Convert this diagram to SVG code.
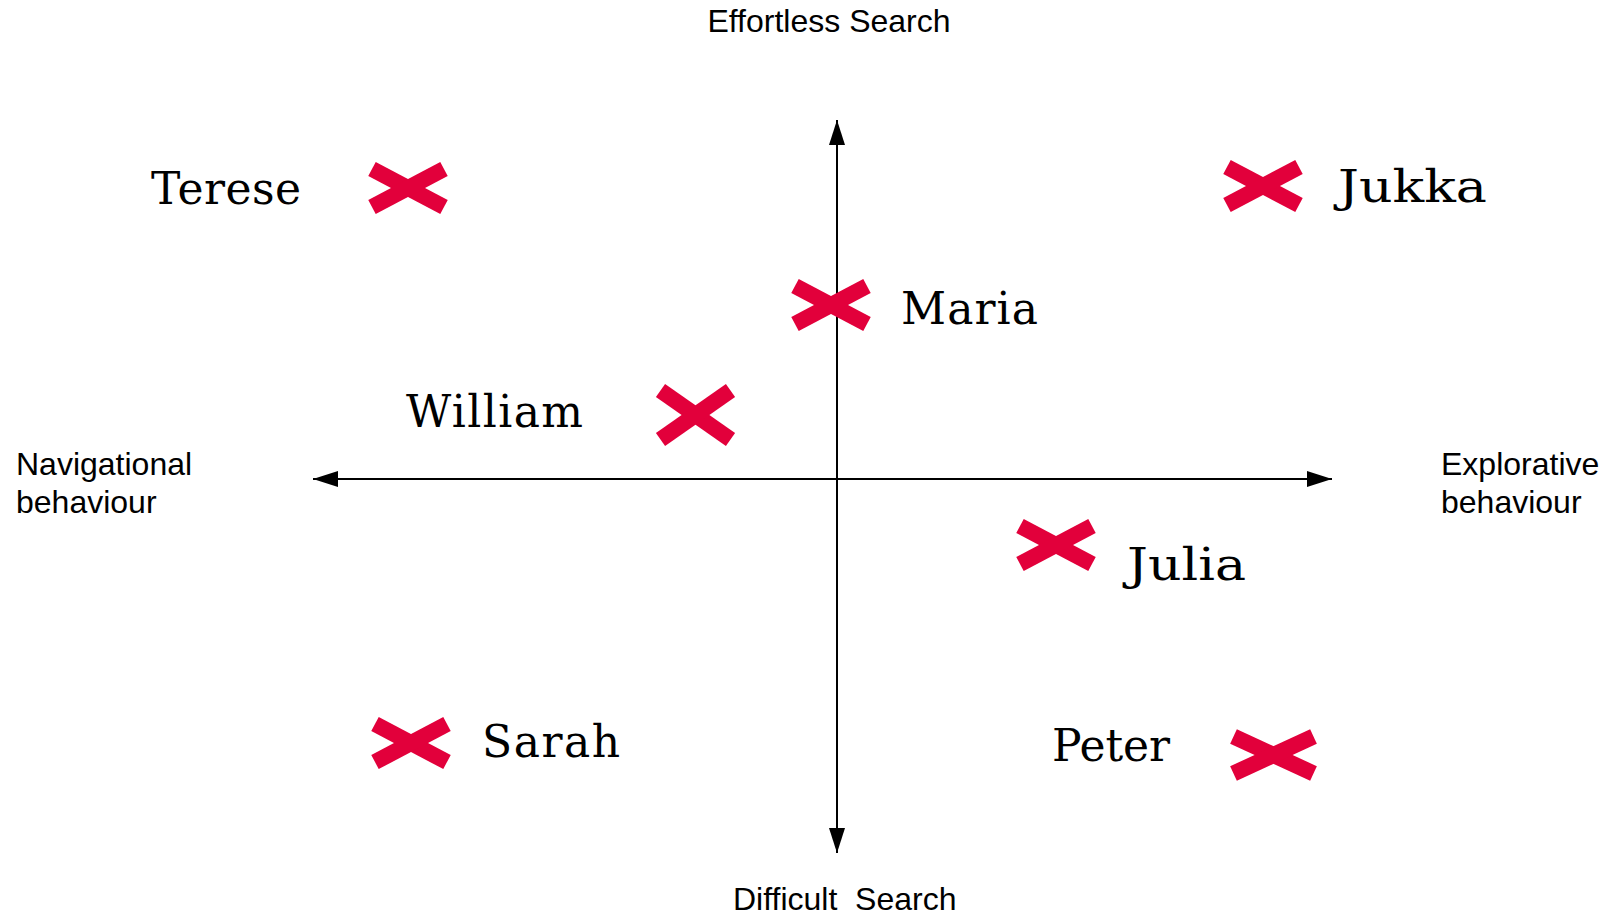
<svg xmlns="http://www.w3.org/2000/svg" width="1608" height="916" viewBox="0 0 1608 916">
<style>
.ax{stroke:#000;stroke-width:2;fill:none}
.x{stroke:#E2003B;stroke-width:16;stroke-linecap:butt}
.nm{font-family:"DejaVu Serif",serif;font-size:44px;fill:#000}
.lb{font-family:"Liberation Sans",Arial,sans-serif;font-size:32px;fill:#000;white-space:pre}
</style>
<defs>
<marker id="ah" viewBox="0 0 25 16" refX="25" refY="8" markerWidth="25" markerHeight="16" markerUnits="userSpaceOnUse" orient="auto">
<path d="M0,0 L25,8 L0,16 Z" fill="#000"/>
</marker>
<g id="cx"><line class="x" x1="-36" y1="-19" x2="36" y2="19"/><line class="x" x1="-36" y1="19" x2="36" y2="-19"/></g>
</defs>
<rect width="1608" height="916" fill="#fff"/>
<g id="connectors">
<line class="ax" x1="837" y1="853" x2="837" y2="120" marker-end="url(#ah)"/>
<line class="ax" x1="837" y1="120" x2="837" y2="853" marker-end="url(#ah)"/>
<line class="ax" x1="1332" y1="479" x2="313" y2="479" marker-end="url(#ah)"/>
<line class="ax" x1="313" y1="479" x2="1332" y2="479" marker-end="url(#ah)"/>
</g>
<g id="axis-labels">
<text class="lb" x="829" y="32" text-anchor="middle">Effortless Search</text>
<text class="lb" x="733" y="910">Difficult  Search</text>
<text class="lb" x="16" y="475">Navigational</text>
<text class="lb" x="16" y="513">behaviour</text>
<text class="lb" x="1441" y="475">Explorative</text>
<text class="lb" x="1441" y="513">behaviour</text>
</g>
<g id="terese"><use href="#cx" x="408" y="188"/><text class="nm" x="151" y="204" textLength="150" lengthAdjust="spacing">Terese</text></g>
<g id="jukka"><use href="#cx" x="1263" y="186"/><text class="nm" x="1338" y="202" textLength="149" lengthAdjust="spacingAndGlyphs">Jukka</text></g>
<g id="maria"><use href="#cx" x="831" y="305"/><text class="nm" x="901" y="324" textLength="137" lengthAdjust="spacing">Maria</text></g>
<g id="william"><line class="x" x1="660.5" y1="390.5" x2="730.5" y2="439.5"/><line class="x" x1="660.5" y1="439.5" x2="730.5" y2="390.5"/><text class="nm" x="406" y="427" textLength="177" lengthAdjust="spacing">William</text></g>
<g id="julia"><use href="#cx" x="1056" y="545"/><text class="nm" x="1127" y="580" textLength="119" lengthAdjust="spacingAndGlyphs">Julia</text></g>
<g id="sarah"><use href="#cx" x="411" y="743"/><text class="nm" x="482" y="757" textLength="138" lengthAdjust="spacing">Sarah</text></g>
<g id="peter"><line class="x" x1="1233.5" y1="736.5" x2="1313.5" y2="773.5"/><line class="x" x1="1233.5" y1="773.5" x2="1313.5" y2="736.5"/><text class="nm" x="1052" y="761" textLength="118" lengthAdjust="spacing">Peter</text></g>
</svg>
